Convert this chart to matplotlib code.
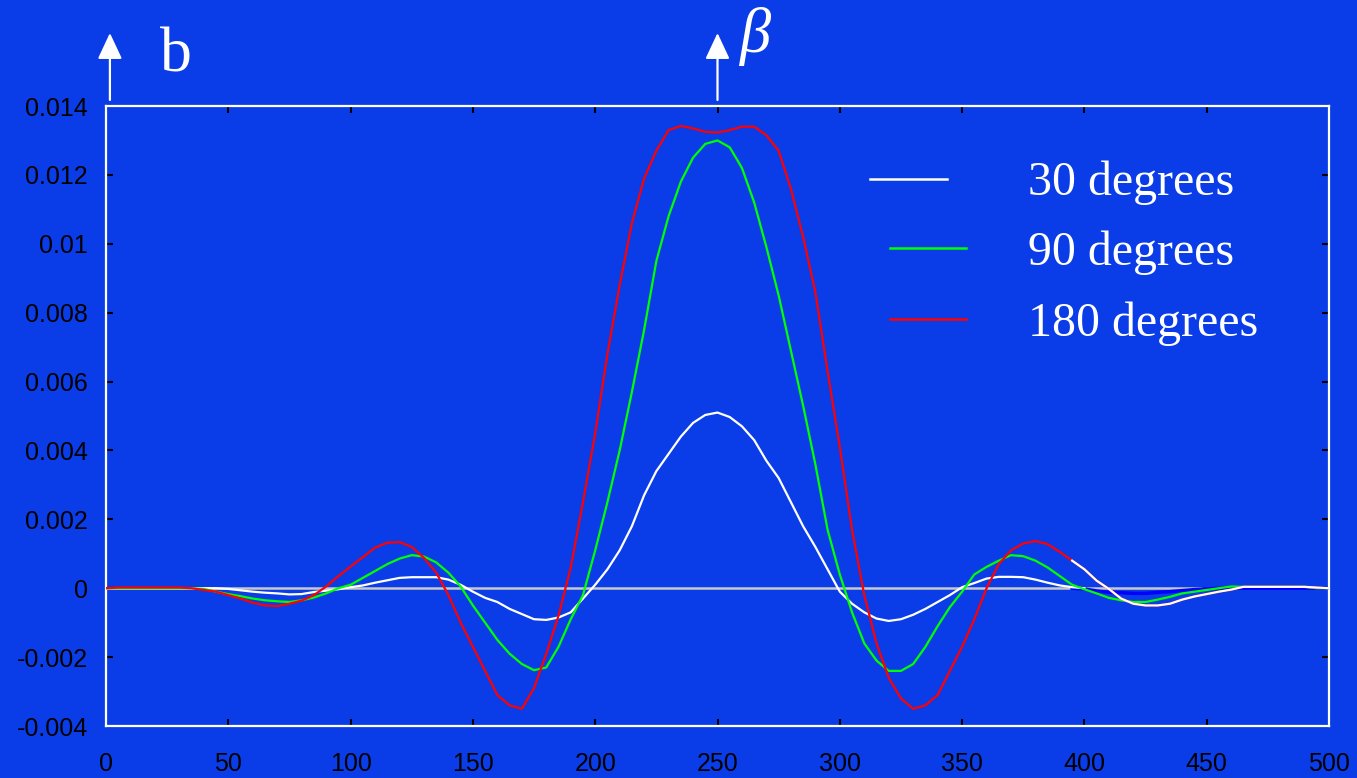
import numpy as np
import matplotlib
matplotlib.use("Agg")
import matplotlib.pyplot as plt
from matplotlib.lines import Line2D

# x positions (every 5 units)
x = np.arange(0, 505, 5)

# 30 degrees (white) - the trace stops at 400
x_30 = np.arange(0, 405, 5)
y_30 = [0, 0, 0, 0, 0, 0, 0, 0, 0, 0,
        -0.00002, -0.00006, -0.0001, -0.00013, -0.00015, -0.00018, -0.00017, -0.00011, -0.00007, -0.00003,
        0.00003, 0.00008, 0.00016, 0.00023, 0.0003, 0.00032, 0.00032, 0.00032, 0.00025, 0.0001,
        -0.0001, -0.00028, -0.0004, -0.0006, -0.00075, -0.0009, -0.00092, -0.00085, -0.0007, -0.0003,
        0.0001, 0.00055, 0.0011, 0.0018, 0.0027, 0.0034, 0.0039, 0.0044, 0.0048, 0.00503,
        0.0051, 0.00497, 0.0047, 0.0043, 0.0037, 0.0032, 0.0025, 0.0018, 0.0012, 0.00055,
        -0.0001, -0.00045, -0.0007, -0.00088, -0.00095, -0.0009, -0.00077, -0.0006, -0.0004, -0.0002,
        0.00003, 0.00015, 0.00028, 0.00033, 0.00033, 0.00032, 0.00025, 0.00016, 0.00008, 0.00003,
        0.0]

# 90 degrees (green)
y_90 = [0, 0, 0, 0, 0, 0, 0, 0, -0.00002, -0.0001,
        -0.00017, -0.00023, -0.0003, -0.00035, -0.00038, -0.0004, -0.00035, -0.00027, -0.00015, 0.0,
        0.0001, 0.0003, 0.0005, 0.0007, 0.00086, 0.00096, 0.00092, 0.00075, 0.00045, 0.00005,
        -0.0005, -0.001, -0.0015, -0.0019, -0.0022, -0.00238, -0.0023, -0.0017, -0.0009, -0.0002,
        0.0011, 0.0025, 0.004, 0.0057, 0.0075, 0.0095, 0.0108, 0.0118, 0.0125, 0.0129,
        0.013, 0.0128, 0.0122, 0.0112, 0.0099, 0.0085, 0.0069, 0.0053, 0.0036, 0.0017,
        0.0004, -0.0007, -0.0016, -0.0021, -0.0024, -0.0024, -0.0022, -0.0017, -0.0011, -0.00055,
        -0.0001, 0.0004, 0.00062, 0.0008, 0.00096, 0.00093, 0.0008, 0.0006, 0.00035, 0.0001,
        -0.00003, -0.00015, -0.00028, -0.00035, -0.0004, -0.0004, -0.00033, -0.00025, -0.00015, -0.0001,
        -0.00005, 0.0, 0.00005, 0.00004, 0.00004, 0.00004, 0.00004, 0.00004, 0.00004, 0.0,
        0.0]

# 180 degrees (red)
y_180 = [0, 0.00002, 0.00002, 0.00002, 0.00002, 0.00002, 0.00002, 0.0, -0.00005, -0.0001,
         -0.0002, -0.0003, -0.00042, -0.0005, -0.00052, -0.00045, -0.00036, -0.0002, 0.00005, 0.00035,
         0.00063, 0.0009, 0.00118, 0.00132, 0.00134, 0.0012, 0.00088, 0.00045, -0.0002, -0.001,
         -0.0017, -0.0024, -0.0031, -0.0034, -0.0035, -0.0029, -0.0019, -0.0008, 0.0006, 0.0025,
         0.0045, 0.0068, 0.0088, 0.0106, 0.0119, 0.0127, 0.0133, 0.01342, 0.01335, 0.01325,
         0.01323, 0.0133, 0.0134, 0.0134, 0.01315, 0.0127, 0.0116, 0.0102, 0.0086, 0.0063,
         0.0041, 0.0017, -0.0002, -0.0016, -0.0026, -0.0032, -0.0035, -0.0034, -0.0031, -0.0024,
         -0.0017, -0.0009, 0.0, 0.0007, 0.0011, 0.0013, 0.00137, 0.00128, 0.00105, 0.0008,
         0.00055, 0.00022, -0.00002, -0.0003, -0.00045, -0.0005, -0.0005, -0.00045, -0.00033, -0.00024,
         -0.00017, -0.0001, -0.00004, 0.00004, 0.00004, 0.00004, 0.00004, 0.00004, 0.00004, 0.00002,
         0.0]

# faint pure blue trace near zero on the right
x_blue = np.arange(395, 505, 5)
y_blue = [0, -0.00002, -0.00008, -0.00012, -0.00013, -0.00015, -0.00015, -0.00012, -0.0001, -0.00007,
          -0.00004, -0.00002, 0, 0, 0, 0, 0, 0, 0, 0, 0, 0]

labels = ["30 degrees", "90 degrees", "180 degrees"]
colors = ["white", "#00ff00", "#ff0000"]

xticks = np.arange(0, 550, 50)
yticks = np.arange(-0.004, 0.0141, 0.002)
ytick_labels = ["-0.004", "-0.002", "0", "0.002", "0.004", "0.006", "0.008", "0.01", "0.012", "0.014"]

bg = "#0a3de8"
fig = plt.figure(figsize=(13.57, 7.78), dpi=100, facecolor=bg)
ax = fig.add_axes([106/1357, 52/778, 1223/1357, 620/778])
ax.set_facecolor(bg)

ax.hlines(0, 0, 448, color="#c8c8c8", lw=1.8, zorder=1)
ax.plot(x_blue, y_blue, color="#0000ff", lw=2.5, zorder=2)
ax.plot(x_30, y_30, color=colors[0], lw=1.6, zorder=3)
ax.plot(x, y_90, color=colors[1], lw=1.6, zorder=4)
ax.plot(x, y_180, color=colors[2], lw=1.6, zorder=5)
# tail of the 180 trace shows up white in the original
tail = x >= 395
ax.plot(x[tail], np.array(y_180)[tail], color="white", lw=1.6, zorder=6)

ax.set_xlim(0, 500)
ax.set_ylim(-0.004, 0.014)
ax.set_xticks(xticks)
ax.set_xticklabels([str(v) for v in xticks])
ax.set_yticks(yticks)
ax.set_yticklabels(ytick_labels)

for s in ax.spines.values():
    s.set_color("white")
    s.set_linewidth(1.6)
ax.tick_params(axis="both", direction="in", color="black", length=5, width=1.5,
               top=True, right=True, labelcolor="black", labelsize=18)
ax.tick_params(axis="x", pad=19)
ax.tick_params(axis="y", pad=13)
for lab in ax.get_xticklabels() + ax.get_yticklabels():
    lab.set_fontfamily("Liberation Sans")

# legend drawn by hand
leg_lines = [(0.6247, 0.6876, 0.8823), (0.641, 0.7032, 0.7710), (0.641, 0.7032, 0.6565)]
leg_base = [0.8565, 0.7435, 0.6290]
for (x0, x1, yl), yb, lab, c in zip(leg_lines, leg_base, labels, colors):
    ax.add_line(Line2D([x0, x1], [yl, yl], transform=ax.transAxes, color=c, lw=1.8))
    ax.text(0.7539, yb, lab, transform=ax.transAxes, color="white",
            fontsize=34.5, family="Liberation Serif", va="baseline", ha="left")

# arrows above the frame
trans = ax.get_xaxis_transform()
for xa in [1.6, 250]:
    ax.annotate("", xy=(xa, 1.1177), xytext=(xa, 1.0097), xycoords=trans, textcoords=trans,
                arrowprops=dict(arrowstyle="-|>,head_length=1.6,head_width=0.75",
                                mutation_scale=10, color="white", lw=1.6,
                                shrinkA=0, shrinkB=0),
                annotation_clip=False)
ax.text(22, (726 - 72) / 620, "b", transform=trans, color="white", fontsize=46,
        family="Liberation Serif", va="baseline", ha="left", clip_on=False)
ax.text(259, (726 - 52) / 620, "β", transform=trans, color="white", fontsize=45,
        family="Liberation Serif", style="italic", va="baseline", ha="left", clip_on=False)

fig.savefig("out.png", dpi=100, facecolor=bg)
